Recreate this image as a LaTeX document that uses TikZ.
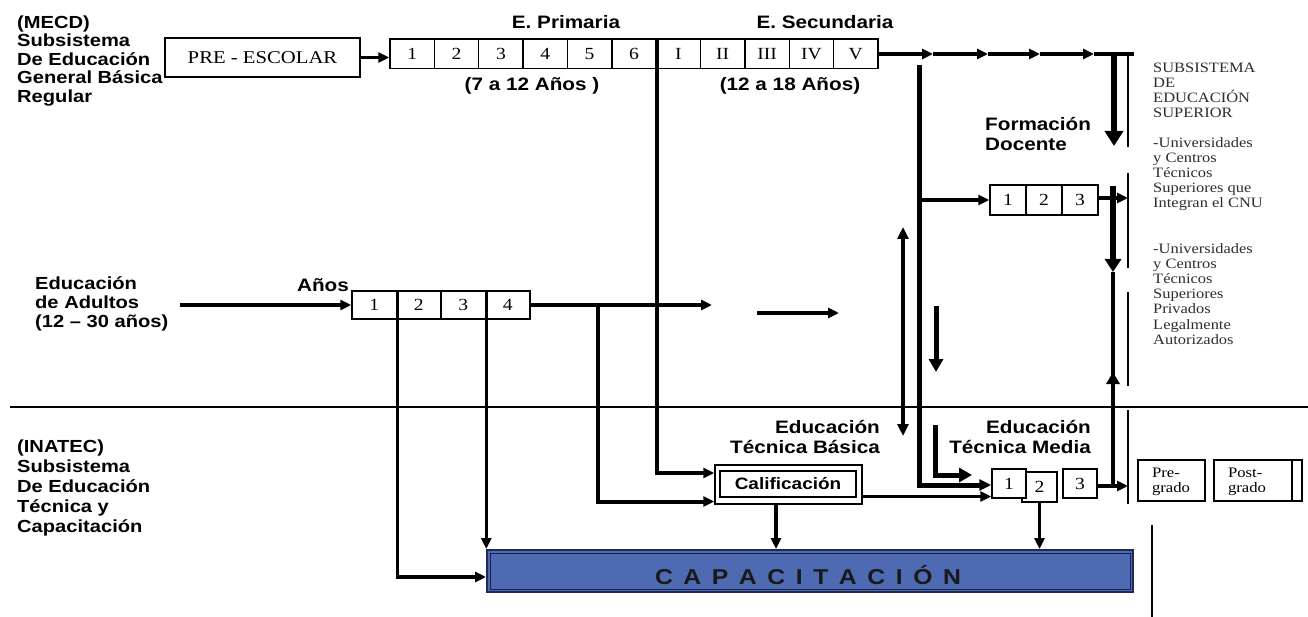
\documentclass[tikz,border=0pt]{standalone}
\usepackage{fontspec}
\setmainfont[FakeStretch=1.15]{Liberation Serif}
\newfontfamily\sansb[FakeStretch=1.15]{Liberation Sans}
\usetikzlibrary{arrows.meta}
\definecolor{capblue}{RGB}{78,106,178}
\definecolor{capedge}{RGB}{30,42,90}
\definecolor{suptext}{RGB}{45,45,45}
\tikzset{
  cell/.style={draw, fill=white, line width=1.5pt, inner sep=0pt, font=\fontsize{17}{17}\selectfont},
  lab/.style={inner sep=0pt, align=left, font=\sansb\bfseries\fontsize{17.5}{18.5}\selectfont},
  labm/.style={inner sep=0pt, font=\sansb\bfseries\fontsize{18}{20.5}\selectfont},
  rtext/.style={inner sep=0pt, align=left, anchor=west, text=suptext, font=\fontsize{14.3}{15.1}\selectfont},
  conn/.style={line width=3.3pt},
  arr/.style={conn, -{Triangle[length=11pt,width=10pt]}},
  thk/.style={line width=5pt},
  thkarr/.style={thk, -{Triangle[length=13pt,width=14pt]}},
  bigarr/.style={line width=6pt, -{Triangle[length=15pt,width=18pt]}},
  bar/.style={line width=2.4pt},
}
\begin{document}
\begin{tikzpicture}[x=1pt,y=-1pt]
\fill[white] (0,0) rectangle (1308,617);
\useasboundingbox (0,0) rectangle (1308,617);

% ---------- labels ----------
\node[lab, anchor=west] (mecd) at (17,61) {(MECD)\\Subsistema\\De Educación\\General Básica\\Regular};
\node[lab, anchor=west, font=\sansb\bfseries\fontsize{17.5}{19}\selectfont] (adul) at (35,304) {Educación\\de Adultos\\(12 – 30 años)};
\node[lab, anchor=west, font=\sansb\bfseries\fontsize{17.5}{20}\selectfont] (inatec) at (17,488) {(INATEC)\\Subsistema\\De Educación\\Técnica y\\Capacitación};
\node[labm] (prim) at (566,22) {E. Primaria};
\node[labm] (sec) at (825,22) {E. Secundaria};
\node[labm] (ap) at (532,86) {(7 a 12 Años )};
\node[labm] (as) at (790,86) {(12 a 18 Años)};
\node[labm] (anos) at (323,285) {Años};
\node[labm, align=left, anchor=west] (fdoc) at (985,134) {Formación\\Docente};
\node[labm, align=right, anchor=east] (etb) at (880,437) {Educación\\Técnica Básica};
\node[labm, align=right, anchor=east] (etm) at (1091,437) {Educación\\Técnica Media};

\node[rtext] (supA) at (1153,90) {SUBSISTEMA\\DE\\EDUCACIÓN\\SUPERIOR};
\node[rtext] (supB) at (1153,174) {-Universidades\\y Centros\\Técnicos\\Superiores que\\Integran el CNU};
\node[rtext] (supC) at (1153,294) {-Universidades\\y Centros\\Técnicos\\Superiores\\Privados\\Legalmente\\Autorizados};

% ---------- boxes ----------
\node[cell, minimum width=195pt, minimum height=39pt, font=\fontsize{18}{18}\selectfont] (pre) at (262.5,57.5) {PRE - ESCOLAR};
\foreach \lab [count=\i] in {1,2,3,4,5,6,I,II,III,IV,V}
  \node[cell, minimum width=44.36pt, minimum height=29.5pt] (t\i) at ({390+44.36*(\i-0.5)},54) {\lab};
\foreach \lab [count=\i] in {1,2,3,4}
  \node[cell, minimum width=44.5pt, minimum height=28pt] (a\i) at ({352+44.5*(\i-0.5)},305) {\lab};
\foreach \lab [count=\i] in {1,2,3}
  \node[cell, minimum width=36pt, minimum height=30pt] (f\i) at ({990+36*(\i-0.5)},200) {\lab};
\node[cell, minimum width=35pt, minimum height=30pt] (m2) at (1039.5,487) {2};
\node[cell, minimum width=34pt, minimum height=29pt] (m1) at (1009,483.5) {1};
\node[cell, minimum width=34pt, minimum height=29pt] (m3) at (1080,483.5) {3};

\node[cell, minimum width=147pt, minimum height=39pt] (califout) at (788.5,484.5) {};
\node[cell, minimum width=136pt, minimum height=26pt, font=\sansb\bfseries\fontsize{16.5}{16.5}\selectfont] (calif) at (788,484) {Calificación};

\node[draw=capedge, fill=capblue, line width=2pt, minimum width=646pt, minimum height=42pt, inner sep=0pt] (cap) at (810,571) {};
\draw[capedge!80!black, line width=1pt] ([xshift=4pt,yshift=-4pt]cap.north west) rectangle ([xshift=-4pt,yshift=4pt]cap.south east);
\node[text=black!90, font=\sansb\bfseries\fontsize{21.5}{21.5}\selectfont] (captxt) at (808,575)
  {\makebox[306pt][s]{C\hfill A\hfill P\hfill A\hfill C\hfill I\hfill T\hfill A\hfill C\hfill I\hfill Ó\hfill N}};

\node[cell, minimum width=67pt, minimum height=41pt] (preg) at (1171.5,480.5) {};
\node[inner sep=0pt, align=left, font=\fontsize{14.5}{15}\selectfont] (pregt) at (1171,482) {Pre-\\grado};
\node[cell, minimum width=88pt, minimum height=41pt] (postg) at (1258,480.5) {};
\draw[line width=1.5pt] ([xshift=-11pt]postg.north east) -- ([xshift=-11pt]postg.south east);
\node[inner sep=0pt, align=left, font=\fontsize{14.5}{15}\selectfont] (postgt) at (1247,482) {Post-\\grado};

% ---------- separator ----------
\coordinate (sepL) at (10,407);
\coordinate (sepR) at (1308,407);
\draw[line width=2pt] (sepL) -- (sepR);

% ---------- superior brackets ----------
\coordinate (k1) at (1128,52);  \coordinate (k2) at (1128,147);
\coordinate (k3) at (1128,173); \coordinate (k4) at (1128,268);
\coordinate (k5) at (1128,292); \coordinate (k6) at (1128,386);
\coordinate (k7) at (1128,410); \coordinate (k8) at (1128,504);
\coordinate (k9) at (1152,525); \coordinate (k10) at (1152,617);
\draw[bar] (k1) -- (k2);
\draw[bar] (k3) -- (k4);
\draw[bar] (k5) -- (k6);
\draw[bar] (k7) -- (k8);
\draw[bar] (k9) -- (k10);

% ---------- connectors ----------
\draw[arr] (pre.east) -- (pre.east -| t1.west);

\coordinate (h1) at (933,54);
\coordinate (h2) at (988,54);
\coordinate (h3) at (1040,54);
\coordinate (h4) at (1094,54);
\coordinate (hend) at (1134,54);
\draw[arr] (t11.east) -- (h1);
\draw[arr] (h1) -- (h2);
\draw[arr] (h2) -- (h3);
\draw[arr] (h3) -- (h4);
\draw[conn] (h4) -- (hend);

\coordinate (bd1) at (1114,54);
\coordinate (bd2) at (1114,146);
\draw[bigarr] (bd1) -- (bd2);

% Formacion docente trunk
\coordinate (ftop) at (919,65);
\draw[thk, -{Triangle[length=12pt,width=11pt]}] (ftop) |- ([yshift=-1.5pt]m1.west);
\draw[arr] (ftop |- f1.west) -- (f1.west);
\coordinate (s2) at (1128,198);
\draw[arr] ([yshift=2pt]f3.east) -- (s2);

% right trunk
\coordinate (r1) at (1113,186);
\coordinate (r2) at (1113,272);
\coordinate (r3) at (1113,372);
\coordinate (r4) at (1113,486);
\draw[line width=6pt, -{Triangle[length=13pt,width=16pt]}] (r1) -- (r2);
\draw[line width=4.5pt] (r2) -- (r4);
\draw[line width=4.5pt, -{Triangle[length=12pt,width=13pt]}] (r4) -- (r3);
\coordinate (s5) at (1128,486);
\draw[arr] ([yshift=-2.5pt]m3.east) -- (s5);

% double arrow
\coordinate (d1) at (903,227);
\coordinate (d2) at (903,436);
\draw[line width=4pt, {Triangle[length=12pt,width=11pt]}-{Triangle[length=12pt,width=11pt]}] (d1) -- (d2);

% short down arrow
\coordinate (sd1) at (936,306);
\coordinate (sd2) at (936,372);
\draw[thkarr] (sd1) -- (sd2);

% L arrow
\coordinate (la1) at (935,425);
\coordinate (la2) at (972,475);
\draw[thkarr] (la1) |- (la2);

% adults
\coordinate (ain) at (180,305);
\draw[arr] (ain) -- (a1.west);
\coordinate (aout) at (712,305);
\draw[arr] (a4.east) -- (aout);
\coordinate (b1) at (757,313);
\coordinate (b2) at (839,313);
\draw[arr, line width=4pt] (b1) -- (b2);

\coordinate (v598) at (598,305);
\draw[arr, line width=4pt] (v598) |- ([yshift=-17pt]califout.west);
\draw[arr, line width=4.5pt] (t6.north east) |- ([yshift=11.5pt]califout.west);

\draw[arr] (a1.north east) |- ([yshift=-6pt]cap.west);
\draw[arr] (a3.north east) -- (a3.north east |- cap.north);

\draw[arr] ([xshift=-12.5pt]califout.south) -- ([xshift=-12.5pt]califout.south |- cap.north);
\draw[arr] ([yshift=-12pt]califout.east) -- ([yshift=-12pt]califout.east -| m1.west);
\draw[arr] (m2.south) -- (m2.south |- cap.north);
\end{tikzpicture}
\end{document}
